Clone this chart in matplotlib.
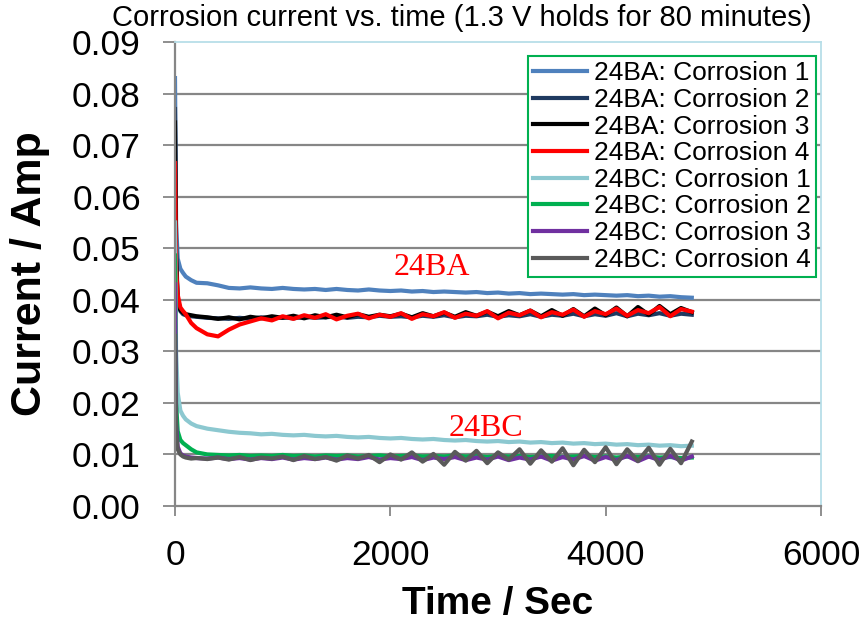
"""Corrosion current vs. time for 24BA and 24BC samples (1.3 V holds)."""

import matplotlib
matplotlib.use("Agg")
import matplotlib.pyplot as plt
from matplotlib.ticker import FormatStrFormatter

plt.rcParams['font.family'] = ['Liberation Sans', 'DejaVu Sans']

# sampling times (s)
time_s = [0, 10, 25, 50, 75, 100, 150, 200,
          300, 400, 500, 600, 700, 800, 900, 1000, 1100, 1200, 1300, 1400,
          1500, 1600, 1700, 1800, 1900, 2000, 2100, 2200, 2300, 2400,
          2500, 2600, 2700, 2800, 2900, 3000, 3100, 3200, 3300, 3400,
          3500, 3600, 3700, 3800, 3900, 4000, 4100, 4200, 4300, 4400,
          4500, 4600, 4700, 4800]

# current (A)
ba_1 = [0.083, 0.055, 0.048, 0.046, 0.0452, 0.0445, 0.0438, 0.0433,
        0.0432, 0.0428, 0.0423, 0.0422, 0.0424, 0.0422, 0.0421, 0.0423, 0.0421, 0.0420, 0.0421, 0.0419,
        0.0421, 0.0419, 0.0418, 0.0420, 0.0418, 0.0417, 0.0418, 0.0416, 0.0417, 0.0415,
        0.0416, 0.0415, 0.0414, 0.0415, 0.0413, 0.0414, 0.0412, 0.0413, 0.0411, 0.0412,
        0.0411, 0.0410, 0.0411, 0.0409, 0.0410, 0.0409, 0.0408, 0.0409, 0.0407, 0.0408,
        0.0406, 0.0407, 0.0405, 0.0404]
ba_2 = [0.077, 0.050, 0.040, 0.0378, 0.0372, 0.0370, 0.0368, 0.0367,
        0.0365, 0.0364, 0.0363, 0.0365, 0.0363, 0.0366, 0.0364, 0.0366, 0.0364, 0.0367, 0.0365, 0.0366,
        0.0368, 0.0365, 0.0367, 0.0366, 0.0369, 0.0367, 0.0368, 0.0366, 0.0369, 0.0367,
        0.0370, 0.0366, 0.0369, 0.0368, 0.0371, 0.0367, 0.0370, 0.0368, 0.0372, 0.0367,
        0.0371, 0.0369, 0.0373, 0.0368, 0.0372, 0.0369, 0.0374, 0.0368, 0.0373, 0.0370,
        0.0374, 0.0369, 0.0373, 0.0371]
ba_3 = [0.0744, 0.048, 0.040, 0.0380, 0.0375, 0.0372, 0.0370, 0.0368,
        0.0366, 0.0363, 0.0366, 0.0362, 0.0367, 0.0364, 0.0368, 0.0365, 0.0369, 0.0364, 0.0370, 0.0366,
        0.0371, 0.0366, 0.0372, 0.0367, 0.0371, 0.0368, 0.0373, 0.0366, 0.0374, 0.0368,
        0.0375, 0.0367, 0.0376, 0.0369, 0.0377, 0.0368, 0.0378, 0.0370, 0.0379, 0.0368,
        0.0380, 0.0369, 0.0382, 0.0368, 0.0383, 0.0370, 0.0385, 0.0368, 0.0386, 0.0371,
        0.0388, 0.0372, 0.0384, 0.0376]
ba_4 = [0.0665, 0.046, 0.041, 0.0385, 0.0378, 0.0372, 0.0355, 0.0345,
        0.0333, 0.0329, 0.0342, 0.0352, 0.0358, 0.0364, 0.0360, 0.0368, 0.0363, 0.0370, 0.0365, 0.0372,
        0.0362, 0.0369, 0.0373, 0.0364, 0.0371, 0.0367, 0.0374, 0.0363, 0.0372, 0.0368,
        0.0376, 0.0365, 0.0373, 0.0369, 0.0378, 0.0364, 0.0375, 0.0370, 0.0379, 0.0366,
        0.0376, 0.0371, 0.0381, 0.0367, 0.0378, 0.0372, 0.0383, 0.0369, 0.0380, 0.0374,
        0.0386, 0.0368, 0.0382, 0.0377]
bc_1 = [0.055, 0.030, 0.022, 0.0185, 0.0175, 0.0168, 0.0160, 0.0155,
        0.0150, 0.0147, 0.0144, 0.0142, 0.0141, 0.0139, 0.0140, 0.0138, 0.0137, 0.0138, 0.0136, 0.0135,
        0.0136, 0.0134, 0.0133, 0.0134, 0.0132, 0.0131, 0.0132, 0.0130, 0.0129, 0.0130,
        0.0128, 0.0127, 0.0128, 0.0126, 0.0125, 0.0126, 0.0124, 0.0125, 0.0123, 0.0124,
        0.0122, 0.0123, 0.0121, 0.0122, 0.0120, 0.0121, 0.0119, 0.0120, 0.0118, 0.0119,
        0.0117, 0.0118, 0.0116, 0.0117]
bc_2 = [0.0486, 0.020, 0.0145, 0.0128, 0.0122, 0.0118, 0.0110, 0.0104,
        0.0100, 0.0099, 0.0098, 0.0099, 0.0097, 0.0098, 0.0097, 0.0099, 0.0097, 0.0098, 0.0096, 0.0098,
        0.0097, 0.0098, 0.0096, 0.0097, 0.0098, 0.0096, 0.0097, 0.0098, 0.0096, 0.0097,
        0.0096, 0.0098, 0.0096, 0.0097, 0.0095, 0.0097, 0.0096, 0.0097, 0.0095, 0.0096,
        0.0097, 0.0095, 0.0096, 0.0097, 0.0095, 0.0096, 0.0094, 0.0096, 0.0095, 0.0096,
        0.0094, 0.0095, 0.0093, 0.0094]
bc_3 = [0.043, 0.016, 0.0115, 0.0102, 0.0098, 0.0096, 0.0094, 0.0093,
        0.0092, 0.0094, 0.0091, 0.0093, 0.0090, 0.0093, 0.0091, 0.0094, 0.0090, 0.0093, 0.0091, 0.0094,
        0.0090, 0.0093, 0.0091, 0.0095, 0.0090, 0.0093, 0.0091, 0.0095, 0.0089, 0.0094,
        0.0091, 0.0095, 0.0089, 0.0094, 0.0090, 0.0096, 0.0089, 0.0094, 0.0090, 0.0096,
        0.0088, 0.0095, 0.0090, 0.0097, 0.0088, 0.0095, 0.0089, 0.0097, 0.0087, 0.0096,
        0.0089, 0.0097, 0.0088, 0.0096]
bc_4 = [0.033, 0.014, 0.0110, 0.0100, 0.0096, 0.0094, 0.0092, 0.0093,
        0.0091, 0.0094, 0.0090, 0.0095, 0.0089, 0.0094, 0.0092, 0.0096, 0.0089, 0.0097, 0.0091, 0.0095,
        0.0088, 0.0098, 0.0092, 0.0099, 0.0085, 0.0100, 0.0090, 0.0104, 0.0086, 0.0101,
        0.0080, 0.0105, 0.0088, 0.0107, 0.0083, 0.0104, 0.0090, 0.0110, 0.0082, 0.0108,
        0.0086, 0.0112, 0.0079, 0.0109, 0.0085, 0.0114, 0.0081, 0.0110, 0.0087, 0.0113,
        0.0080, 0.0111, 0.0083, 0.0125]

series = [ba_1, ba_2, ba_3, ba_4, bc_1, bc_2, bc_3, bc_4]
labels = ["24BA: Corrosion 1", "24BA: Corrosion 2", "24BA: Corrosion 3", "24BA: Corrosion 4",
          "24BC: Corrosion 1", "24BC: Corrosion 2", "24BC: Corrosion 3", "24BC: Corrosion 4"]
colors = ["#4F81BD", "#1F3A60", "#000000", "#FF0000",
          "#8CC8D0", "#00B050", "#7030A0", "#5A5A5A"]

x_ticks = [0, 2000, 4000, 6000]
y_ticks = [0.00, 0.01, 0.02, 0.03, 0.04, 0.05, 0.06, 0.07, 0.08, 0.09]

GRID = "#868686"

fig = plt.figure(figsize=(8.65, 6.27), dpi=100)
ax = fig.add_axes([175 / 865, 1 - 506 / 627, 646 / 865, 464 / 627])

for vals, lab, col in zip(series, labels, colors):
    ax.plot(time_s, vals, color=col, lw=3.0, label=lab, solid_joinstyle='round')

ax.set_xlim(0, 6000)
ax.set_ylim(0, 0.09)
ax.set_xticks(x_ticks)
ax.set_yticks(y_ticks)
ax.yaxis.set_major_formatter(FormatStrFormatter('%.2f'))

for yv in y_ticks[1:-1]:
    ax.axhline(yv, color=GRID, lw=1.6, zorder=0)

for side in ('left', 'bottom'):
    ax.spines[side].set_color(GRID)
    ax.spines[side].set_linewidth(1.6)
for side in ('top', 'right'):
    ax.spines[side].set_color("#B7DEE8")
    ax.spines[side].set_linewidth(1.3)

ax.tick_params(axis='y', direction='out', length=8.6, width=1.3, color=GRID,
               labelsize=25.5, pad=16)
ax.tick_params(axis='x', direction='out', length=7.5, width=1.3, color=GRID,
               labelsize=25.5, pad=16)

ax.set_ylabel("Current / Amp", fontsize=31, fontweight='bold')
ax.yaxis.set_label_coords(-0.193, 0.5)
ax.set_xlabel("Time / Sec", fontsize=28, fontweight='bold')
ax.xaxis.set_label_coords(0.5, -0.172)

fig.text(462 / 865, 1 - 18 / 627, "Corrosion current vs. time (1.3 V holds for 80 minutes)",
         fontsize=21, ha='center', va='center')

ax.text(2387, 0.0463, "24BA", color="#FF0000", fontsize=23,
        family='Liberation Serif', ha='center', va='center')
ax.text(2889, 0.0151, "24BC", color="#FF0000", fontsize=23,
        family='Liberation Serif', ha='center', va='center')

leg = ax.legend(loc='upper right', bbox_to_anchor=(816 / 865, 1 - 56 / 627),
                bbox_transform=fig.transFigure, fontsize=19, frameon=True,
                fancybox=False, borderpad=0.2, labelspacing=0.1,
                handlelength=2.05, handletextpad=0.25, borderaxespad=0)
leg.get_frame().set_edgecolor("#00B050")
leg.get_frame().set_linewidth(1.5)
leg.get_frame().set_alpha(1)

fig.savefig("out.png", dpi=100)
